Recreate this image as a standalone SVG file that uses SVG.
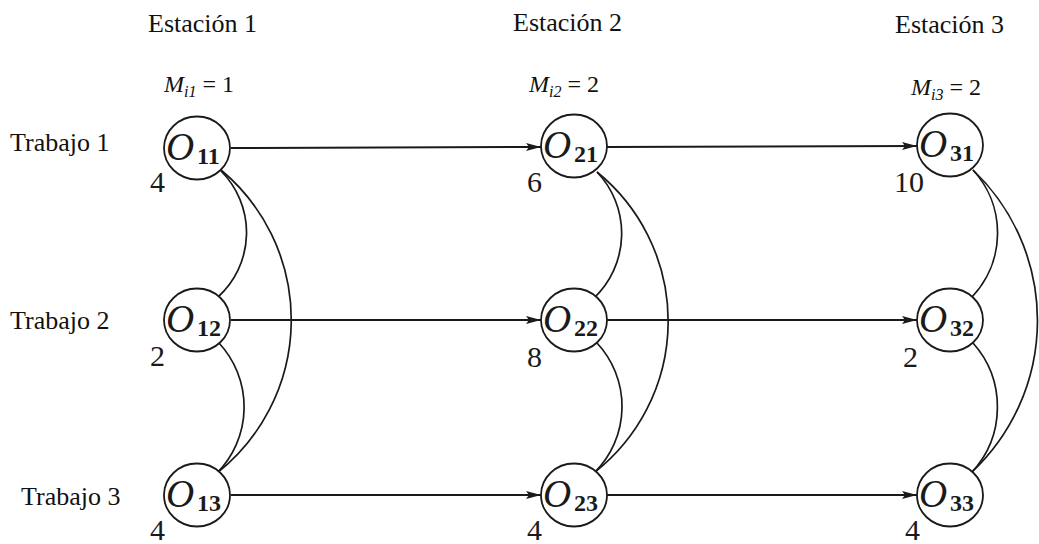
<svg xmlns="http://www.w3.org/2000/svg" width="1039" height="544" viewBox="0 0 1039 544">
<style>
.hdr{font-family:"Liberation Serif",serif;font-size:26px;fill:#111}
.m{font-family:"Liberation Serif",serif;font-size:24px;fill:#111}
.mi{font-style:italic}
.sub{font-size:16px;font-style:italic}
.node ellipse{fill:#fff;stroke:#1a1a1a;stroke-width:1.8}
.o{font-family:"Liberation Serif",serif;font-style:italic;font-size:39px;fill:#1a1a1a}
.os{font-family:"Liberation Serif",serif;font-weight:bold;font-size:24px;fill:#1a1a1a}
.w{font-family:"Liberation Serif",serif;font-size:30px;fill:#1a1a1a}
.conj{stroke:#1a1a1a;stroke-width:2;fill:none;marker-end:url(#ah)}
.disj{stroke:#1a1a1a;stroke-width:1.7;fill:none}
</style>
<defs>
<marker id="ah" markerUnits="userSpaceOnUse" markerWidth="16" markerHeight="10" refX="15" refY="4" orient="auto">
<path d="M0,0 L15,4 L0,8 L3,4 z" fill="#1a1a1a"/>
</marker>
</defs>

<g id="headers">
<text class="hdr" x="148" y="32">Estación 1</text>
<text class="hdr" x="513" y="31">Estación 2</text>
<text class="hdr" x="895" y="33">Estación 3</text>
<text class="m" x="164" y="92"><tspan class="mi">M</tspan><tspan class="sub" dy="5">i1</tspan><tspan dy="-5"> = 1</tspan></text>
<text class="m" x="529" y="92"><tspan class="mi">M</tspan><tspan class="sub" dy="5">i2</tspan><tspan dy="-5"> = 2</tspan></text>
<text class="m" x="911" y="95"><tspan class="mi">M</tspan><tspan class="sub" dy="5">i3</tspan><tspan dy="-5"> = 2</tspan></text>
<text class="hdr" x="10" y="151">Trabajo 1</text>
<text class="hdr" x="10" y="329">Trabajo 2</text>
<text class="hdr" x="21" y="505">Trabajo 3</text>
</g>

<g id="connectors">
<line class="conj" x1="231" y1="148" x2="541" y2="147"/>
<line class="conj" x1="607" y1="147" x2="917" y2="146"/>
<line class="conj" x1="231" y1="320" x2="541" y2="320"/>
<line class="conj" x1="607" y1="320" x2="917" y2="320"/>
<line class="conj" x1="231" y1="495" x2="541" y2="495"/>
<line class="conj" x1="607" y1="495" x2="917" y2="495"/>
<path class="disj" d="M221 170 A195 195 0 0 1 217 473"/>
<path class="disj" d="M221 171 A87 87 0 0 1 218 297"/>
<path class="disj" d="M219 343 A94 94 0 0 1 217 473"/>
<path class="disj" d="M597 172 A192 192 0 0 1 595 472"/>
<path class="disj" d="M597 172 A89 89 0 0 1 594 298"/>
<path class="disj" d="M597 343 A93 93 0 0 1 595 472"/>
<path class="disj" d="M973 170 A208 208 0 0 1 972 472"/>
<path class="disj" d="M973 170 A93 93 0 0 1 972 297"/>
<path class="disj" d="M973 343 A96 96 0 0 1 972 472"/>
</g>

<g id="O11" class="node"><ellipse cx="197" cy="148" rx="33" ry="31.5"/><text class="o" x="166" y="160">O</text><text class="os" x="197" y="164">11</text><text class="w" x="150" y="192">4</text></g>
<g id="O12" class="node"><ellipse cx="197" cy="320" rx="33" ry="31.5"/><text class="o" x="166" y="332">O</text><text class="os" x="197" y="336">12</text><text class="w" x="150" y="366">2</text></g>
<g id="O13" class="node"><ellipse cx="197" cy="495" rx="33" ry="31.5"/><text class="o" x="166" y="507">O</text><text class="os" x="197" y="511">13</text><text class="w" x="150" y="540">4</text></g>
<g id="O21" class="node"><ellipse cx="574" cy="146" rx="33" ry="31.5"/><text class="o" x="543" y="158">O</text><text class="os" x="574" y="162">21</text><text class="w" x="527" y="192">6</text></g>
<g id="O22" class="node"><ellipse cx="574" cy="320" rx="33" ry="31.5"/><text class="o" x="543" y="332">O</text><text class="os" x="574" y="336">22</text><text class="w" x="527" y="367">8</text></g>
<g id="O23" class="node"><ellipse cx="574" cy="495" rx="33" ry="31.5"/><text class="o" x="543" y="507">O</text><text class="os" x="574" y="511">23</text><text class="w" x="527" y="540">4</text></g>
<g id="O31" class="node"><ellipse cx="950" cy="145" rx="33" ry="31.5"/><text class="o" x="919" y="157">O</text><text class="os" x="950" y="161">31</text><text class="w" x="894" y="192">10</text></g>
<g id="O32" class="node"><ellipse cx="950" cy="320" rx="33" ry="31.5"/><text class="o" x="919" y="332">O</text><text class="os" x="950" y="336">32</text><text class="w" x="903" y="367">2</text></g>
<g id="O33" class="node"><ellipse cx="950" cy="495" rx="33" ry="31.5"/><text class="o" x="919" y="507">O</text><text class="os" x="950" y="511">33</text><text class="w" x="905" y="540">4</text></g>
</svg>
